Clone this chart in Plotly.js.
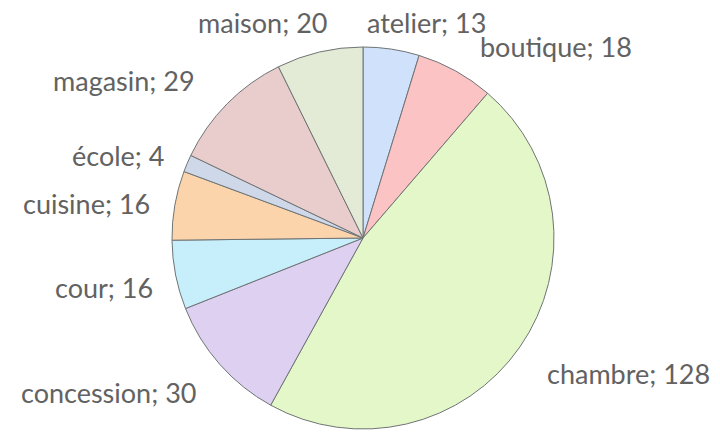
<!DOCTYPE html>
<html>
<head>
<meta charset="utf-8">
<script src="https://cdn.plot.ly/plotly-3.0.1.min.js"></script>
<style>html,body{margin:0;padding:0;background:#fff;}#chart{width:720px;height:435px;}</style>
</head>
<body>
<div id="chart"></div>
<script>
// Data
var categories = ["atelier", "boutique", "chambre", "concession", "cour", "cuisine", "école", "magasin", "maison"];
var values = [13, 18, 128, 30, 16, 16, 4, 29, 20];

// Styles
var colors = ["#d0e1fb", "#fbc3c3", "#e4f7c8", "#ddd0f1", "#c6eefb", "#fcd4ab", "#cfd8e8", "#e9cdcd", "#e3ebd6"];
// label positions (pixel based)
var W = 720, H = 435;
var labelPx = [[426, 22], [556, 46], [628, 373], [108, 392], [104, 287], [86, 203], [118, 155], [124, 80], [262, 22]];

var cx = 363, cy = 238, r = 191;

var annotations = categories.map(function (c, i) {
  return {
    xref: "paper", yref: "paper",
    x: labelPx[i][0] / W, y: 1 - labelPx[i][1] / H,
    xanchor: "center", yanchor: "middle",
    text: c + "; " + values[i],
    showarrow: false,
    font: {family: "Lato, Noto Sans, sans-serif", size: 27, color: "#626262"}
  };
});

var trace = {
  type: "pie",
  labels: categories,
  values: values,
  sort: false,
  direction: "clockwise",
  rotation: 0,
  textinfo: "none",
  hoverinfo: "label+value",
  marker: {colors: colors, line: {color: "#6f7475", width: 1}},
  domain: {x: [(cx - r) / W, (cx + r) / W], y: [(H - cy - r) / H, (H - cy + r) / H]}
};

var layout = {
  width: W, height: H,
  margin: {l: 0, r: 0, t: 0, b: 0},
  showlegend: false,
  paper_bgcolor: "#ffffff",
  annotations: annotations
};

Plotly.newPlot("chart", [trace], layout, {displayModeBar: false, staticPlot: true});
</script>
</body>
</html>
